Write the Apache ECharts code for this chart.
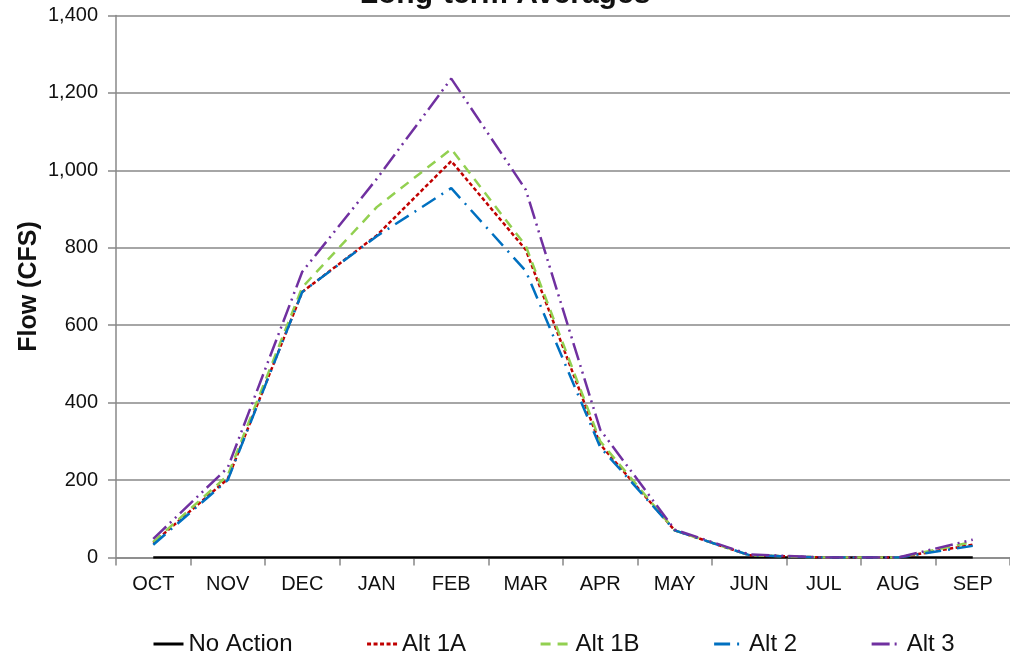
<!DOCTYPE html>
<html>
<head>
<meta charset="utf-8">
<script src="https://cdn.jsdelivr.net/npm/echarts@6/dist/echarts.min.js"></script>
<style>html,body{margin:0;padding:0;background:#fff}#c{width:1010px;height:657px}</style>
</head>
<body>
<div id="c"></div>
<script>
var months = ['OCT','NOV','DEC','JAN','FEB','MAR','APR','MAY','JUN','JUL','AUG','SEP'];
var noAction = [0,0,0,0,0,0,0,0,0,0,0,0];
var alt1A = [38,203,686,832,1024,795,292,70,6,0,0,33];
var alt1B = [40,212,698,905,1055,805,300,70,6,0,0,40];
var alt2  = [33,200,686,830,954,740,285,70,6,0,0,30];
var alt3  = [48,232,738,978,1237,950,330,72,8,0,0,46];
var seriesNames = ['No Action','Alt 1A','Alt 1B','Alt 2','Alt 3'];

var font = 'Liberation Sans, Arial, sans-serif';
var chart = echarts.init(document.getElementById('c'));
chart.setOption({
  animation:false,
  backgroundColor:'#fff',
  title:{text:'Long-term Averages', left:'center', top:-25,
    textStyle:{fontFamily:font, fontSize:30, fontWeight:'bold', color:'#111'}},
  legend:{left:147, top:627, itemWidth:30, itemHeight:14, itemGap:73, selectedMode:false,
    data:seriesNames,
    itemStyle:{opacity:0},
    lineStyle:{width:3},
    textStyle:{fontFamily:font, fontSize:24, color:'#111'}},
  grid:{left:116, top:15.5, bottom:99.5, right:-6, containLabel:false},
  xAxis:{type:'category', data:months, boundaryGap:true,
    axisLine:{lineStyle:{color:'#888', width:1.5}},
    axisTick:{show:true, length:8, lineStyle:{color:'#888', width:1.5}},
    axisLabel:{fontFamily:font, fontSize:20, color:'#111', margin:17}},
  yAxis:{type:'value', min:0, max:1400, interval:200,
    name:'Flow (CFS)', nameLocation:'middle', nameGap:74, nameRotate:90, nameMoveOverlap:false,
    nameTextStyle:{fontFamily:font, fontSize:25, fontWeight:'bold', color:'#111'},
    axisLine:{show:true, lineStyle:{color:'#888', width:1.5}},
    axisTick:{show:true, length:8, lineStyle:{color:'#888', width:1.5}},
    splitLine:{lineStyle:{color:'#888', width:1.5}},
    axisLabel:{fontFamily:font, fontSize:20, color:'#111', margin:18,
      formatter:function(v){return v.toLocaleString('en-US');}}},
  series:[
    {name:'No Action', type:'line', data:noAction, symbol:'none', z:3,
      lineStyle:{color:'#000', width:2.5, type:'solid'}, itemStyle:{color:'#000'}},
    {name:'Alt 1A', type:'line', data:alt1A, symbol:'none',
      lineStyle:{color:'#C00000', width:2.5, type:[4,2.5]}, itemStyle:{color:'#C00000'}},
    {name:'Alt 1B', type:'line', data:alt1B, symbol:'none',
      lineStyle:{color:'#92D050', width:2.5, type:[10,7]}, itemStyle:{color:'#92D050'}},
    {name:'Alt 2', type:'line', data:alt2, symbol:'none',
      lineStyle:{color:'#0070C0', width:2.5, type:[16,7,2,7]}, itemStyle:{color:'#0070C0'}},
    {name:'Alt 3', type:'line', data:alt3, symbol:'none',
      lineStyle:{color:'#7030A0', width:2.5, type:[18,5,2,5,2,5]}, itemStyle:{color:'#7030A0'}}
  ]
});
</script>
</body>
</html>
